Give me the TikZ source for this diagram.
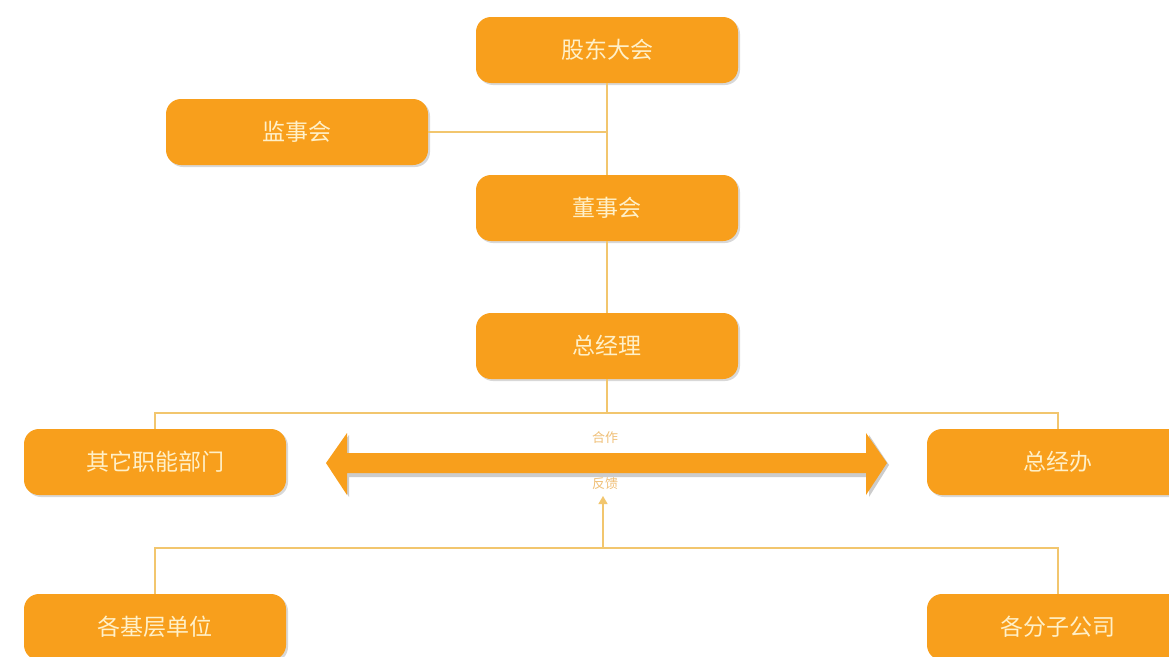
\documentclass[tikz,border=0pt]{standalone}
\usepackage{fontspec}
\setmainfont{Noto Sans CJK SC}
\usetikzlibrary{arrows.meta,shadows}
\definecolor{boxor}{HTML}{F89F1C}
\definecolor{txtc}{HTML}{FFF0C8}
\definecolor{linec}{HTML}{F2C66E}
\definecolor{lblc}{HTML}{F0C078}
\tikzset{
  orgbox/.style={draw=none, fill=boxor, rounded corners=15pt, minimum width=262pt, minimum height=66pt,
    text=txtc, font=\fontsize{23pt}{27pt}\selectfont, inner sep=0pt,
    drop shadow={shadow xshift=2pt, shadow yshift=-2pt, fill=black!25, opacity=0.6}},
  conn/.style={draw=linec, line width=1.3pt},
  lbl/.style={text=lblc, font=\fontsize{13pt}{15pt}\selectfont, inner sep=0pt}
}
\begin{document}
\begin{tikzpicture}[x=1pt,y=-1pt]
\useasboundingbox (0,0) rectangle (1169,656);
\clip (0,0) rectangle (1169,656);
\fill[white] (0,0) rectangle (1169,656);
\coordinate (j2) at (607,413);
\coordinate (j3) at (603,548);
\coordinate (atip) at (603,496);
\node[orgbox] (gd) at (607,50) {股东大会};
\node[orgbox] (js) at (297,132) {监事会};
\node[orgbox] (ds) at (607,208) {董事会};
\node[orgbox] (zjl) at (607,346) {总经理};
\node[orgbox] (qt) at (155,462) {其它职能部门};
\node[orgbox] (zjb) at (1058,462) {总经办};
\node[orgbox] (jc) at (155,627) {各基层单位};
\node[orgbox] (fz) at (1058,627) {各分子公司};
\coordinate (j1) at (js.east -| gd.south);
\draw[conn] (gd.south) -- (ds.north);
\draw[conn] (js.east) -- (j1);
\draw[conn] (ds.south) -- (zjl.north);
\draw[conn] (zjl.south) -- (j2);
\draw[conn] (qt.north) |- (j2) -| (zjb.north);
\draw[conn] (jc.north) |- (j3) -| (fz.north);
\draw[conn, -{Triangle[length=8pt,width=9pt]}] (j3) -- (atip);
% double arrow
\fill[black!20] (329,463) -- (349,435) -- (349,455) -- (869,455) -- (869,435) -- (889,465) -- (869,497) -- (869,477) -- (349,477) -- (349,497) -- cycle;
\fill[boxor] (326,463) -- (347,433) -- (347,453) -- (866,453) -- (866,433) -- (887,463) -- (866,495) -- (866,473) -- (347,473) -- (347,495) -- cycle;
\node[lbl] (hz) at (605,438) {合作};
\node[lbl] (fk) at (605,484) {反馈};
\end{tikzpicture}
\end{document}
